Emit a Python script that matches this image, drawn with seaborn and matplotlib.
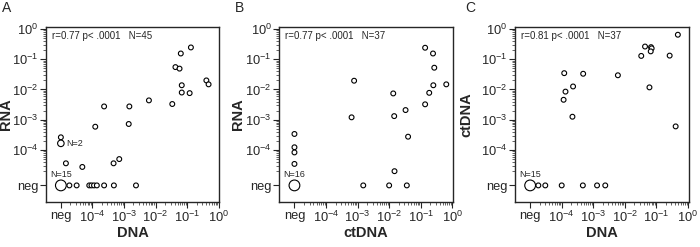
import numpy as np
import pandas as pd
import seaborn as sns
import matplotlib.pyplot as plt
from matplotlib.ticker import FixedLocator, NullFormatter

# values as log10 exponents, "neg" handled separately
# Panel A: DNA vs RNA
a_dna = [-0.88, -1.20, -1.37, -1.24, -1.17, -1.17, -0.92, -0.39, -0.32, -1.47,
         -2.21, -2.83, -3.63, -2.85, -3.91, -3.15, -3.33, -4.32, -4.84]
a_rna = [-0.61, -0.81, -1.26, -1.31, -1.86, -2.10, -2.12, -1.70, -1.83, -2.48,
         -2.36, -2.56, -2.56, -3.14, -3.23, -4.30, -4.44, -4.56, -4.44]
a_negx_rna = [-3.58, -3.78]          # DNA neg, RNA detected
a_negx_n = [1, 2]
a_negy_dna = [-4.73, -4.50, -4.10, -4.03, -3.95, -3.86, -3.63, -3.32, -2.62]  # RNA neg
a_negboth = 15

# Panel B: ctDNA vs RNA
b_ct = [-0.86, -0.61, -0.57, -0.60, -0.19, -0.73, -0.86, -3.11, -1.87, -1.48,
        -1.84, -3.19, -1.40, -1.83]
b_rna = [-0.62, -0.81, -1.28, -1.86, -1.83, -2.11, -2.49, -1.71, -2.13, -2.68,
         -2.88, -2.92, -3.56, -4.70]
b_negx_rna = [-3.47, -3.91, -4.08, -4.46]
b_negx_n = [1, 1, 1, 1]
b_negy_ct = [-2.82, -2.00, -1.44]
b_negboth = 16

# Panel C: DNA vs ctDNA
c_dna = [-0.32, -1.36, -1.17, -1.15, -1.18, -1.48, -0.58, -1.22, -3.92, -3.32,
         -2.22, -3.64, -3.88, -3.94, -3.66, -0.39]
c_ct = [-0.19, -0.58, -0.60, -0.64, -0.74, -0.89, -0.88, -1.93, -1.46, -1.48,
        -1.53, -1.90, -2.07, -2.34, -2.90, -3.22]
c_negx_ct = []
c_negx_n = []
c_negy_dna = [-4.74, -4.52, -4.00, -3.33, -2.88, -2.62]
c_negboth = 15

stats = ["r=0.77 p< .0001   N=45", "r=0.77 p< .0001   N=37", "r=0.81 p< .0001   N=37"]
major_labels = ['neg', r'$10^{-4}$', r'$10^{-3}$', r'$10^{-2}$', r'$10^{-1}$', r'$10^{0}$']

NEG_X = 1e-5
NEG_Y = 10 ** -5.17
SIZES = {1: 12, 2: 22, 15: 60, 16: 60}

sns.set_style("ticks")
plt.rcParams['font.family'] = ['Liberation Sans', 'DejaVu Sans']
plt.rcParams['mathtext.fontset'] = 'custom'
plt.rcParams['mathtext.rm'] = 'Liberation Sans'
plt.rcParams['mathtext.it'] = 'Liberation Sans:italic'
plt.rcParams['mathtext.bf'] = 'Liberation Sans:bold'


def build(xs, ys, negx_y, negx_n, negy_x, negboth):
    x = [10 ** v for v in xs] + [NEG_X] * len(negx_y) + [10 ** v for v in negy_x] + [NEG_X]
    y = [10 ** v for v in ys] + [10 ** v for v in negx_y] + [NEG_Y] * len(negy_x) + [NEG_Y]
    n = [1] * len(xs) + list(negx_n) + [1] * len(negy_x) + [negboth]
    return pd.DataFrame({'x': x, 'y': y, 'n': n})


def panel(ax, df, xlabel, ylabel, stat, ylab_x):
    sns.scatterplot(data=df, x='x', y='y', size='n', sizes=SIZES, facecolor='white',
                    edgecolor='black', linewidth=0.8, legend=False, ax=ax, zorder=3)
    ax.set_xscale('log')
    ax.set_yscale('log')
    ax.set_xlim(10 ** -5.48, 10 ** 0.02)
    ax.set_ylim(10 ** -5.72, 10 ** 0.06)
    majors = [NEG_X, 1e-4, 1e-3, 1e-2, 1e-1, 1]
    ax.set_xticks(majors, major_labels)
    ax.set_yticks([NEG_Y, 1e-4, 1e-3, 1e-2, 1e-1, 1], major_labels)
    minors = [k * 10.0 ** d for d in range(-5, 0) for k in range(2, 10)]
    for axis in (ax.xaxis, ax.yaxis):
        axis.set_minor_locator(FixedLocator(minors))
        axis.set_minor_formatter(NullFormatter())
    ax.tick_params(which='major', direction='out', length=4, width=0.8, labelsize=9.3, pad=1.5)
    ax.tick_params(which='minor', direction='out', length=2, width=0.5)
    ax.set_xlabel(xlabel, fontsize=10.5, fontweight='bold', labelpad=1)
    ax.set_ylabel(ylabel, fontsize=10.5, fontweight='bold')
    ax.yaxis.set_label_coords(ylab_x, 0.5)
    for s in ax.spines.values():
        s.set_linewidth(1.0)
    ax.text(0.035, 0.95, stat, transform=ax.transAxes, fontsize=7, va='center', ha='left')


fig = plt.figure(figsize=(7.0, 2.47), dpi=100)
lefts = [0.0653, 0.399, 0.7357]
axes = [fig.add_axes([l, 0.182, 0.248, 0.708]) for l in lefts]

dfa = build(a_dna, a_rna, a_negx_rna, a_negx_n, a_negy_dna, a_negboth)
dfb = build(b_ct, b_rna, b_negx_rna, b_negx_n, b_negy_ct, b_negboth)
dfc = build(c_dna, c_ct, c_negx_ct, c_negx_n, c_negy_dna, c_negboth)

panel(axes[0], dfa, 'DNA', 'RNA', stats[0], -0.188)
panel(axes[1], dfb, 'ctDNA', 'RNA', stats[1], -0.198)
panel(axes[2], dfc, 'DNA', 'ctDNA', stats[2], -0.241)

# count labels next to the stacked points
axes[0].text(NEG_X, 10 ** -4.8, f'N={a_negboth}', fontsize=6.5, ha='center', va='center')
axes[0].text(10 ** -4.82, 10 ** a_negx_rna[1], f'N={a_negx_n[1]}', fontsize=6.5, ha='left', va='center')
axes[1].text(NEG_X, 10 ** -4.82, f'N={b_negboth}', fontsize=6.5, ha='center', va='center')
axes[2].text(NEG_X, 10 ** -4.8, f'N={c_negboth}', fontsize=6.5, ha='center', va='center')

for letter, xpos in zip(['A', 'B', 'C'], [0.003, 0.335, 0.664]):
    fig.text(xpos, 1 - 7.5 / 247, letter, fontsize=10, ha='left', va='center')

fig.savefig('out.png', dpi=100)
